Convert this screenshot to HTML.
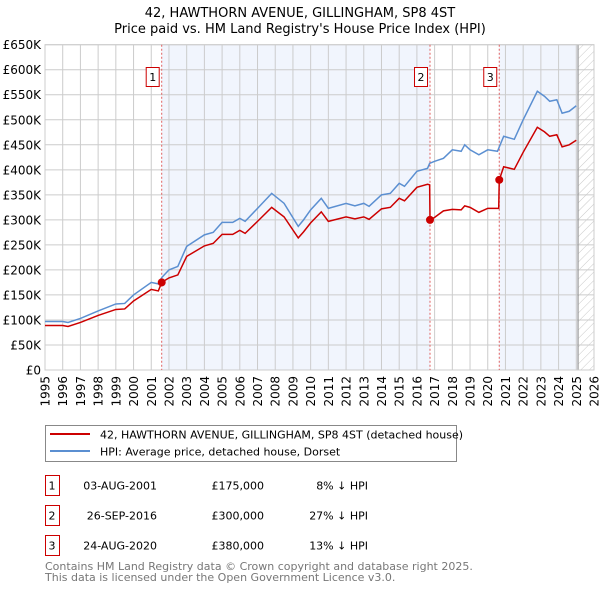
<!DOCTYPE html>
<html><head><meta charset="utf-8"><style>
body{margin:0;background:#fff;font-family:"DejaVu Sans","Liberation Sans",sans-serif;}
svg text{font-family:"DejaVu Sans","Liberation Sans",sans-serif;}
</style></head><body>
<svg id="chart" width="600" height="590" viewBox="0 0 600 590" xmlns="http://www.w3.org/2000/svg">
<defs><pattern id="hatch" width="6" height="6" patternUnits="userSpaceOnUse" patternTransform="rotate(45)"><line x1="0" y1="0" x2="0" y2="6" stroke="#bbb" stroke-width="0.8"/></pattern></defs>
<text x="300" y="17" text-anchor="middle" font-size="13">42, HAWTHORN AVENUE, GILLINGHAM, SP8 4ST</text>
<text x="300" y="33" text-anchor="middle" font-size="13">Price paid vs. HM Land Registry's House Price Index (HPI)</text>
<g id="plot"></g>
<g>
<rect x="45.5" y="425.5" width="411" height="36" fill="#fff" stroke="#888"/>
<line x1="50" y1="434" x2="90" y2="434" stroke="#cc0000" stroke-width="2"/>
<text x="100" y="438.5" font-size="11">42, HAWTHORN AVENUE, GILLINGHAM, SP8 4ST (detached house)</text>
<line x1="50" y1="451" x2="90" y2="451" stroke="#5b8fd1" stroke-width="2"/>
<text x="100" y="455.5" font-size="11">HPI: Average price, detached house, Dorset</text>
</g>
<g id="table"></g>
<text x="45" y="570" font-size="11" fill="#777">Contains HM Land Registry data © Crown copyright and database right 2025.</text>
<text x="45" y="581" font-size="11" fill="#777">This data is licensed under the Open Government Licence v3.0.</text>
</svg>
<script>
const hpiYears=[1995,1996,1996.3,1997,1998,1999,1999.5,2000,2001,2001.4,2001.6,2002,2002.5,2003,2004,2004.5,2005,2005.6,2006,2006.3,2007,2007.8,2008.5,2009.3,2009.6,2010,2010.6,2011,2012,2012.5,2013,2013.3,2014,2014.5,2015,2015.3,2016,2016.6,2016.72,2017,2017.5,2018,2018.5,2018.7,2019,2019.5,2020,2020.55,2020.9,2021.5,2022,2022.8,2023.2,2023.5,2023.9,2024.2,2024.6,2025];
const hpiValues=[97,97,95,103,118,132,133,150,175,172,185,200,207,247,270,275,295,295,303,297,323,353,333,287,300,320,343,323,333,328,333,327,350,353,373,367,397,403,413,417,423,440,437,450,440,430,440,437,467,461,500,557,547,537,540,513,517,528];
const priceYears=[1995,1996,1996.3,1997,1998,1999,1999.5,2000,2001,2001.4,2001.59,2002,2002.5,2003,2004,2004.5,2005,2005.6,2006,2006.3,2007,2007.8,2008.5,2009.3,2009.6,2010,2010.6,2011,2012,2012.5,2013,2013.3,2014,2014.5,2015,2015.3,2016,2016.6,2016.72,2016.74,2017,2017.5,2018,2018.5,2018.7,2019,2019.5,2020,2020.62,2020.65,2020.9,2021.5,2022,2022.8,2023.2,2023.5,2023.9,2024.2,2024.6,2025];
const priceValues=[89,89,87,95,109,121,122,138,161,158,175,184,190,227,248,253,271,271,279,273,297,325,306,264,276,294,316,297,306,302,306,301,322,325,343,338,365,371,370,300,305,318,321,320,328,325,315,323,323,380,406,401,435,485,476,467,470,446,450,459];
const saleYears=[2001.59,2016.74,2020.65];
const saleValues=[175,300,380];
const saleLabels=["1","2","3"];
const saleDates=["03-AUG-2001","26-SEP-2016","24-AUG-2020"];
const salePrices=["£175,000","£300,000","£380,000"];
const saleDiffs=["8% ↓ HPI","27% ↓ HPI","13% ↓ HPI"];
const yTicks=[0,50,100,150,200,250,300,350,400,450,500,550,600,650];
const yTickLabels=["£0","£50K","£100K","£150K","£200K","£250K","£300K","£350K","£400K","£450K","£500K","£550K","£600K","£650K"];
const xTicks=[1995,1996,1997,1998,1999,2000,2001,2002,2003,2004,2005,2006,2007,2008,2009,2010,2011,2012,2013,2014,2015,2016,2017,2018,2019,2020,2021,2022,2023,2024,2025,2026];
const dataEnd=2025.1;

const X0=45,X1=594,Y0=370,Y1=44.7;
const x=y=>X0+(y-1995)/(2026-1995)*(X1-X0);
const yv=v=>Y0-v/650*(Y0-Y1);
const NS="http://www.w3.org/2000/svg";
const plot=document.getElementById('plot');
function mk(tag,attrs,parent){const e=document.createElementNS(NS,tag);for(const k in attrs)e.setAttribute(k,attrs[k]);(parent||plot).appendChild(e);return e;}

// shaded periods
for(let i=0;i<saleYears.length;i+=2){
  const end=i+1<saleYears.length?saleYears[i+1]:dataEnd;
  const r=mk('rect',{x:x(saleYears[i]),y:Y1,width:x(end)-x(saleYears[i]),height:Y0-Y1,fill:'#eef3fd',opacity:0.8});
  
  
}
const hr=mk('rect',{x:x(dataEnd),y:Y1,width:X1-x(dataEnd),height:Y0-Y1,fill:'url(#hatch)'});


// grid
yTicks.forEach((t,i)=>{
  const l=mk('line',{x1:X0,x2:X1,y1:yv(t),y2:yv(t),stroke:'#ccc','stroke-width':1});
  
  
  const tx=mk('text',{x:X0-4,y:yv(t)+4.5,'text-anchor':'end','font-size':12});
  
  
  tx.textContent=yTickLabels[i];
});
xTicks.forEach(t=>{
  const l=mk('line',{x1:x(t),x2:x(t),y1:Y1,y2:Y0,stroke:'#ccc','stroke-width':1});
  
  
  const tx=mk('text',{x:0,y:0,'font-size':12,'text-anchor':'end',transform:`translate(${x(t)+4.5},${Y0+6}) rotate(-90)`});
  
  
  tx.textContent=t;
});
const dl=mk('line',{x1:x(dataEnd),x2:x(dataEnd),y1:Y1,y2:Y0,stroke:'#999','stroke-width':1.2});


const fr=mk('rect',{x:X0,y:Y1,width:X1-X0,height:Y0-Y1,fill:'none',stroke:'#ccc'});


// sale vlines & labels
saleYears.forEach((s,i)=>{
  const l=mk('line',{x1:x(s),x2:x(s),y1:Y1,y2:Y0,stroke:'#e06060','stroke-width':1,'stroke-dasharray':'2,2'});
  
  
  const b=mk('rect',{x:x(s)-15.5,y:67.5,width:13,height:19,fill:'#fff',stroke:'#cc0000'});
  
  
  const t=mk('text',{x:x(s)-9,y:81,'text-anchor':'middle','font-size':11});
  
  
  t.textContent=saleLabels[i];
});
// lines
const hp=mk('polyline',{points:hpiYears.map((y,i)=>x(y)+','+yv(hpiValues[i])).join(' '),fill:'none',stroke:'#5b8fd1','stroke-width':1.5});


const pp=mk('polyline',{points:priceYears.map((y,i)=>x(y)+','+yv(priceValues[i])).join(' '),fill:'none',stroke:'#cc0000','stroke-width':1.5});


saleYears.forEach((s,i)=>{
  const c=mk('circle',{cx:x(s),cy:yv(saleValues[i]),r:4,fill:'#cc0000'});
  
  
});
// table
const tb=document.getElementById('table');
saleLabels.forEach((s,i)=>{
  const cy=485+i*30;
  const b=mk('rect',{x:45.5,y:cy-9.5,width:14,height:20,fill:'#fff',stroke:'#cc0000'},tb);
  
  
  const cells=[[52,'middle',s],[157,'end',saleDates[i]],[264,'end',salePrices[i]],[368,'end',saleDiffs[i]]];
  cells.forEach(c=>{
    const t=mk('text',{x:c[0],y:cy+4.5,'text-anchor':c[1],'font-size':11},tb);
    
    
    t.textContent=c[2];
  });
});
</script>
</body></html>
